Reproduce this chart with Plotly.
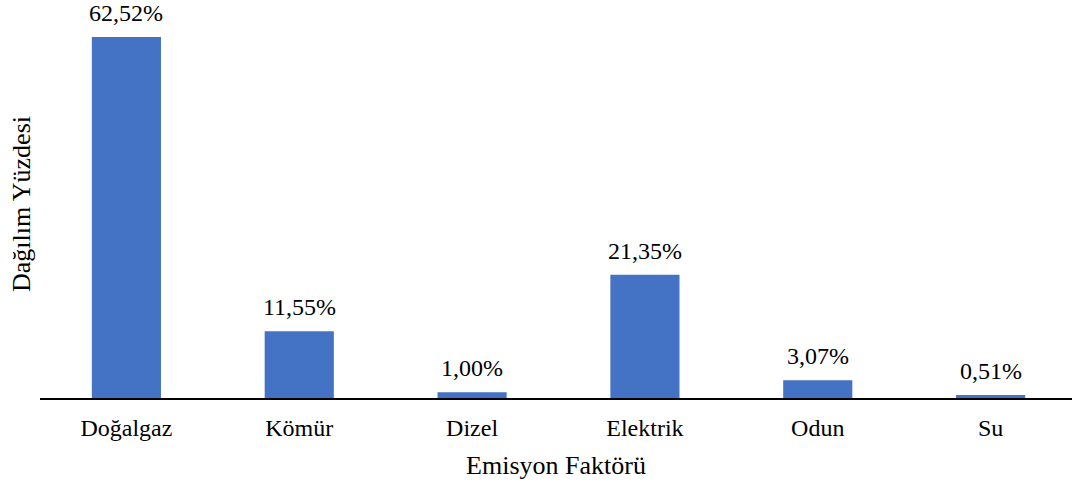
import plotly.graph_objects as go

categories = ["Doğalgaz", "Kömür", "Dizel", "Elektrik", "Odun", "Su"]
values = [62.52, 11.55, 1.00, 21.35, 3.07, 0.51]
labels = ["62,52%", "11,55%", "1,00%", "21,35%", "3,07%", "0,51%"]

FONT = "Liberation Serif"

fig = go.Figure()
fig.add_trace(go.Bar(
    x=categories, y=values,
    marker=dict(color="#4472C4", line=dict(width=0)),
    width=0.4,
    hoverinfo="skip",
))

for c, v, t in zip(categories, values, labels):
    fig.add_annotation(x=c, y=v, text=t, showarrow=False,
                       yanchor="bottom", yshift=9,
                       font=dict(family=FONT, size=24, color="black"))

fig.update_layout(
    width=1072, height=484,
    margin=dict(l=40, r=0, t=10, b=86),
    plot_bgcolor="white", paper_bgcolor="white",
    showlegend=False,
    font=dict(family=FONT, color="black"),
    xaxis=dict(
        type="category",
        range=[-0.5, 5.471],
        showline=True, linecolor="black", linewidth=2,
        ticks="", showgrid=False,
        ticklabelstandoff=7,
        tickfont=dict(family=FONT, size=24, color="black"),
        title=dict(text="Emisyon Faktörü", font=dict(family=FONT, size=26, color="black"), standoff=16),
    ),
    yaxis=dict(
        range=[0, 67.2],
        showticklabels=False, showgrid=False, zeroline=False, showline=False,
        ticks="",
        title=dict(text="Dağılım Yüzdesi", font=dict(family=FONT, size=26, color="black"), standoff=0),
    ),
)

fig.write_html("out.html", config={"displayModeBar": False},
               post_script="document.body.style.margin='0';document.body.style.overflow='hidden';")
